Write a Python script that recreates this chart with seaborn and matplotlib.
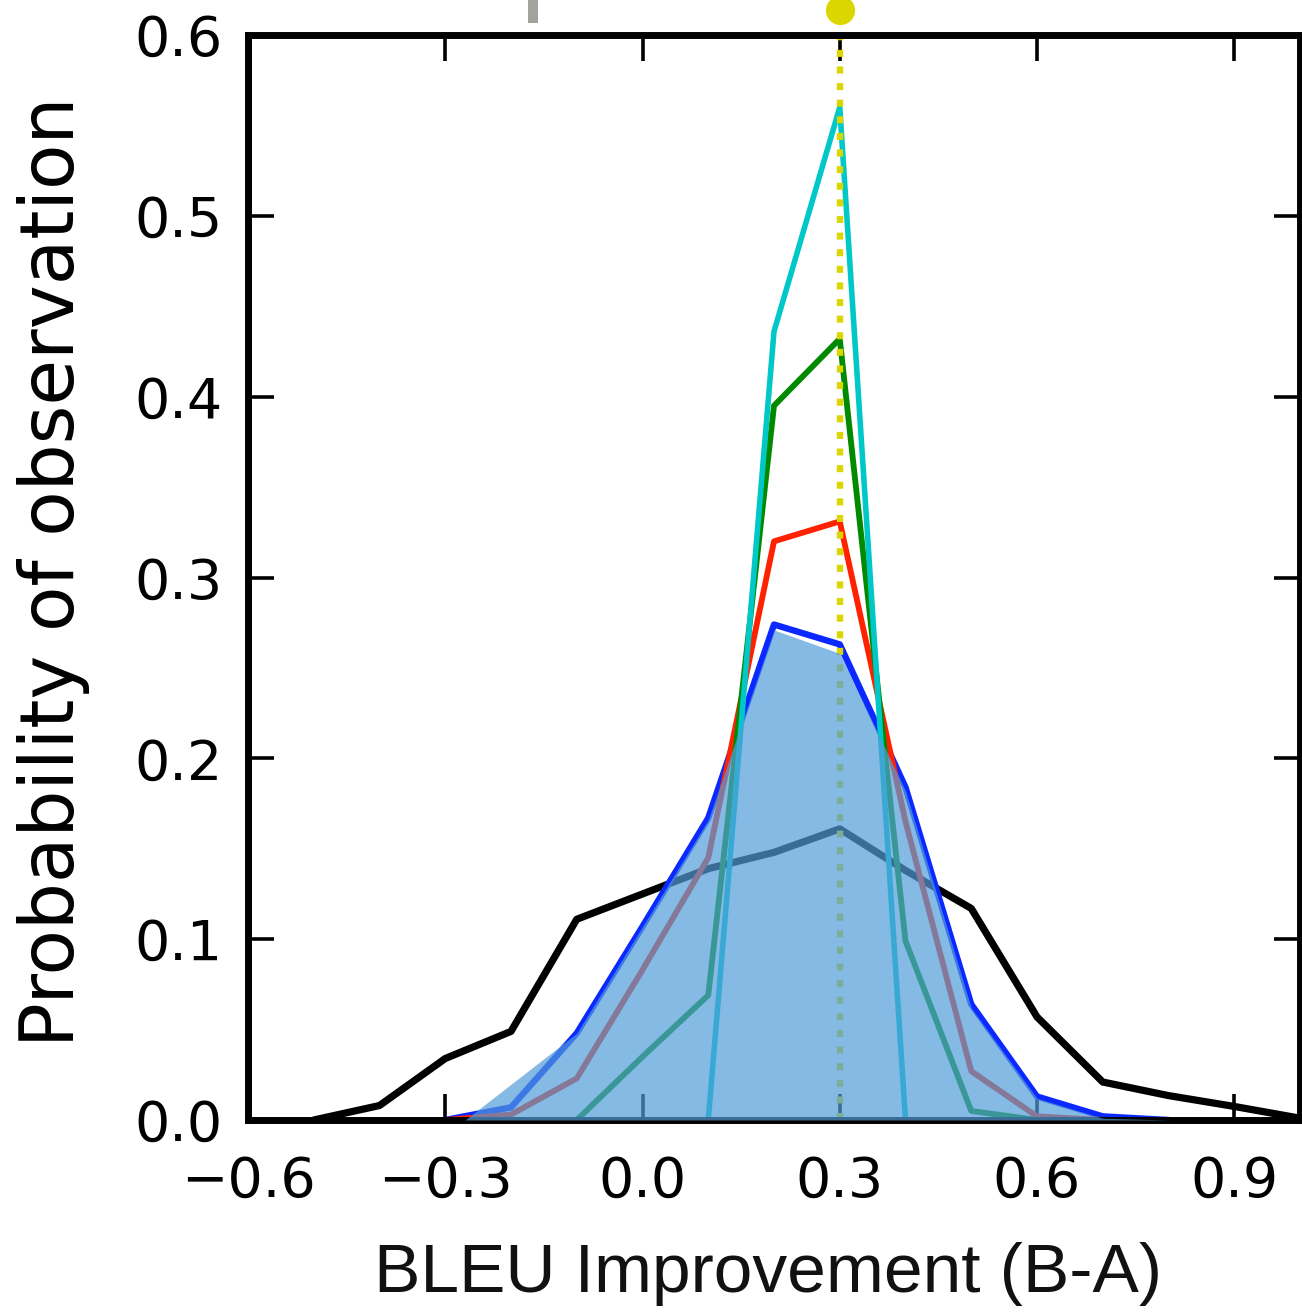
import numpy as np
import pandas as pd
import matplotlib
matplotlib.use("Agg")
import matplotlib.pyplot as plt
import seaborn as sns
from matplotlib import font_manager

# ---------------- data ----------------
x_grid = [-0.5, -0.4, -0.3, -0.2, -0.1, 0.0, 0.1, 0.2, 0.3, 0.4, 0.5, 0.6, 0.7, 0.8, 0.9, 1.0]
black_vals = [0.0, 0.008, 0.034, 0.049, 0.111, 0.125, 0.139, 0.148, 0.161, 0.138, 0.117, 0.057, 0.021, 0.0135, 0.0075, 0.001]
blue_vals = [None, None, 0.0, 0.007, 0.048, 0.107, 0.167, 0.274, 0.263, 0.184, 0.064, 0.013, 0.002, 0.0, None, None]
red_vals = [None, None, 0.0, 0.003, 0.023, 0.083, 0.145, 0.320, 0.331, 0.165, 0.027, 0.002, 0.0, None, None, None]
green_vals = [None, None, None, None, 0.0, 0.035, 0.069, 0.395, 0.432, 0.099, 0.005, 0.0, None, None, None, None]
cyan_vals = [None, None, None, None, None, None, 0.0, 0.436, 0.560, 0.0, None, None, None, None, None, None]

fill_x = [-0.27, -0.1, 0.0, 0.1, 0.2, 0.3, 0.4, 0.5, 0.6, 0.7, 0.8]
fill_y = [0.0, 0.048, 0.107, 0.166, 0.271, 0.258, 0.182, 0.062, 0.012, 0.001, 0.0]

mean_x = 0.3          # yellow marker / dotted line
mean_marker_y = 0.614
gray_x = -0.166
gray_y = [0.6068, 0.635]

xticks = [-0.6, -0.3, 0.0, 0.3, 0.6, 0.9]
yticks = [0.0, 0.1, 0.2, 0.3, 0.4, 0.5, 0.6]
xlabel = "BLEU Improvement (B-A)"
ylabel = "Probability of observation"

df = pd.DataFrame({"x": x_grid, "black": black_vals, "blue": blue_vals,
                   "red": red_vals, "green": green_vals, "cyan": cyan_vals})

# ---------------- style ----------------
sns.set_style("ticks")
plt.rcParams["font.family"] = ["DejaVu Sans"]

names = {f.name for f in font_manager.fontManager.ttflist}
xlab_family = ["Liberation Sans", "DejaVu Sans"] if "Liberation Sans" in names else ["DejaVu Sans"]
xlab_size = 50 if "Liberation Sans" in names else 45.5

fig = plt.figure(figsize=(13.02, 13.15), dpi=100)
ax = fig.add_axes([248 / 1302, 1 - 1120 / 1315, 1052 / 1302, 1085 / 1315])

series = [("black", "#000000", 5.2),
          ("blue", "#0a28ff", 4.6),
          ("red", "#ff2200", 4.2),
          ("green", "#008a00", 4.2),
          ("cyan", "#00c8c8", 4.0)]
for name, col, lw in series:
    sub = df[["x", name]].dropna()
    sns.lineplot(data=sub, x="x", y=name, color=col, linewidth=lw, ax=ax,
                 legend=False, zorder=2)

# dotted mean line (under the fill) and marker above the axes
ax.plot([mean_x, mean_x], [0.0, mean_marker_y], color="#dcd600", linewidth=4.6,
        linestyle=(0, (1.1, 1.5)), zorder=2.2, clip_on=False)
ax.plot([mean_x], [mean_marker_y], marker="o", markersize=21,
        color="#dcd600", markeredgewidth=0, zorder=6, clip_on=False)
ax.plot([gray_x, gray_x], gray_y, color="#a3a39e", linewidth=7.2,
        solid_capstyle="butt", zorder=6, clip_on=False)

# shaded distribution on top
ax.fill_between(fill_x, fill_y, 0, color="#529dda", alpha=0.7,
                linewidth=0, zorder=3)

ax.set_xlim(-0.6, 1.0)
ax.set_ylim(0.0, 0.6)
ax.set_xticks(xticks)
ax.set_yticks(yticks)
ax.set_xticklabels([("\u2212" if v < 0 else "") + f"{abs(v):.1f}" for v in xticks])
ax.set_yticklabels([f"{v:.1f}" for v in yticks])

for s in ax.spines.values():
    s.set_visible(True)
    s.set_linewidth(5.0)
    s.set_color("black")

ax.tick_params(axis="both", which="major", direction="in", top=True,
               right=True, length=19, width=2.6, color="black",
               labelsize=40, labelcolor="black")
ax.tick_params(axis="x", pad=25)
ax.tick_params(axis="y", pad=18)

ax.set_xlabel(xlabel, fontsize=xlab_size, family=xlab_family, color="#111111")
ax.set_ylabel(ylabel, fontsize=53.5, color="black")
ax.xaxis.set_label_coords(0.494, -0.112)
ax.yaxis.set_label_coords(-0.150, 0.505)

fig.savefig("out.png", dpi=100)
